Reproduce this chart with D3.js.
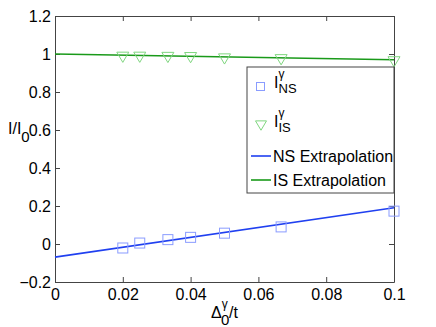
<!DOCTYPE html>
<html><head><meta charset="utf-8">
<script src="https://cdn.jsdelivr.net/npm/d3@7"></script>
<style>body{margin:0;background:#fff;} text{font-family:"Liberation Sans",Arial,sans-serif;}</style>
</head><body>
<svg id="c" width="436" height="327"></svg>
<script>
const xVals = [0.02, 0.025, 0.0333, 0.04, 0.05, 0.0667, 0.1];
const nsVals = [-0.021, 0.005, 0.023, 0.035, 0.057, 0.09, 0.173];
const isVals = [0.986, 0.986, 0.985, 0.984, 0.977, 0.973, 0.962];
const nsFit = [[0, -0.069], [0.1, 0.191]];
const isFit = [[0, 1.0], [0.1, 0.97]];
const xTicks = [0, 0.02, 0.04, 0.06, 0.08, 0.1];
const yTicks = [-0.2, 0, 0.2, 0.4, 0.6, 0.8, 1, 1.2];

const svg = d3.select("#c");
const L = 55, R = 394, T = 16, B = 282;
const x = d3.scaleLinear().domain([0, 0.1]).range([L, R]);
const y = d3.scaleLinear().domain([-0.2, 1.2]).range([B, T]);
const fmt = d => d === 0 ? "0" : (d < 0 ? "\u2212" + String(-d) : String(d));

// axes
const ax = svg.append("g").attr("font-size", 16).attr("fill", "#000");
const xa = svg.append("g").attr("transform", `translate(0,${B})`)
  .call(d3.axisBottom(x).tickValues(xTicks).tickFormat(fmt).tickSizeInner(-5).tickSizeOuter(0).tickPadding(7));
const xt = svg.append("g").attr("transform", `translate(0,${T})`)
  .call(d3.axisTop(x).tickValues(xTicks).tickFormat("").tickSizeInner(-5).tickSizeOuter(0));
const ya = svg.append("g").attr("transform", `translate(${L},0)`)
  .call(d3.axisLeft(y).tickValues(yTicks).tickFormat(fmt).tickSizeInner(-5).tickSizeOuter(0).tickPadding(4));
const yr = svg.append("g").attr("transform", `translate(${R},0)`)
  .call(d3.axisRight(y).tickValues(yTicks).tickFormat("").tickSizeInner(-5).tickSizeOuter(0));
[xa, xt, ya, yr].forEach(g => {
  g.selectAll("path").attr("stroke", "#444").attr("stroke-width", 1);
  g.selectAll("line").attr("stroke", "#444");
  g.selectAll("text").attr("font-size", 16).attr("fill", "#000")
    .attr("font-family", "Liberation Sans, Arial, sans-serif");
});
xa.selectAll("text").attr("dy", "0.71em");

// fit lines
const line = d3.line().x(d => x(d[0])).y(d => y(d[1]));
svg.append("path").datum(nsFit).attr("d", line).attr("fill", "none")
  .attr("stroke", "#2040f0").attr("stroke-width", 1.6);
svg.append("path").datum(isFit).attr("d", line).attr("fill", "none")
  .attr("stroke", "#1a9a1a").attr("stroke-width", 1.6);

// markers
const sq = 10;
svg.append("g").selectAll("rect").data(xVals).join("rect")
  .attr("x", d => x(d) - sq/2).attr("y", (d, i) => y(nsVals[i]) - sq/2)
  .attr("width", sq).attr("height", sq)
  .attr("fill", "none").attr("stroke", "#8a9cff").attr("stroke-width", 1);
const tri = (cx, cy, s) => `M${cx - s},${cy - s * 0.75}L${cx + s},${cy - s * 0.75}L${cx},${cy + s * 0.95}Z`;
svg.append("g").selectAll("path").data(xVals).join("path")
  .attr("d", (d, i) => tri(x(d), y(isVals[i]), 6))
  .attr("fill", "none").attr("stroke", "#7fd67f").attr("stroke-width", 1);

// legend
const lg = svg.append("g");
lg.append("rect").attr("x", 247).attr("y", 67).attr("width", 147).attr("height", 126)
  .attr("fill", "#fff").attr("stroke", "#444").attr("stroke-width", 1);
lg.append("rect").attr("x", 256.5).attr("y", 82.5).attr("width", 8).attr("height", 8)
  .attr("fill", "none").attr("stroke", "#8a9cff");
lg.append("path").attr("d", tri(261, 125, 5.5)).attr("fill", "none").attr("stroke", "#7fd67f");
function ilabel(xp, yb, sub) {
  const t = lg.append("text").attr("x", xp).attr("y", yb).attr("font-size", 16);
  t.append("tspan").text("I");
  t.append("tspan").attr("font-size", 12).attr("dy", -10).text("\u03b3");
  t.append("tspan").attr("font-size", 13).attr("x", xp + 4.5).attr("dy", 15).text(sub);
}
ilabel(274, 88, "NS");
ilabel(274, 127, "IS");
lg.append("line").attr("x1", 251).attr("x2", 271).attr("y1", 156).attr("y2", 156)
  .attr("stroke", "#2040f0").attr("stroke-width", 1.6);
lg.append("line").attr("x1", 251).attr("x2", 271).attr("y1", 180).attr("y2", 180)
  .attr("stroke", "#1a9a1a").attr("stroke-width", 1.6);
lg.append("text").attr("x", 273).attr("y", 162).attr("font-size", 16).text("NS Extrapolation");
lg.append("text").attr("x", 273).attr("y", 186).attr("font-size", 16).text("IS Extrapolation");

// axis labels
const yl = svg.append("text").attr("x", 8).attr("y", 134).attr("font-size", 16);
yl.append("tspan").text("I/I");
yl.append("tspan").attr("font-size", 15).attr("dy", 8).text("0");

const xl = svg.append("text").attr("x", 211).attr("y", 318).attr("font-size", 16);
xl.append("tspan").text("\u0394");
xl.append("tspan").attr("font-size", 12).attr("dy", -10).text("\u03b3");
xl.append("tspan").attr("font-size", 15).attr("x", 221).attr("dy", 17).text("0");
xl.append("tspan").attr("dy", -7).attr("x", 229).text("/t");
</script>
</body></html>
